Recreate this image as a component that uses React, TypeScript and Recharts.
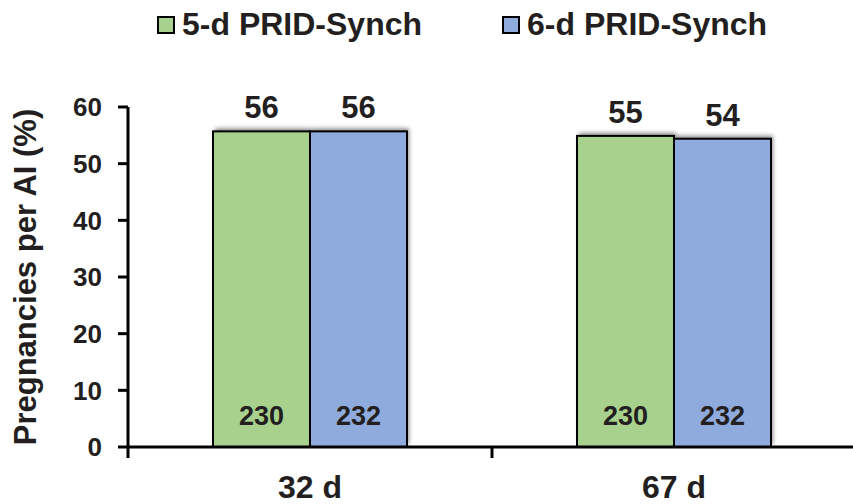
import { Bar, BarChart, LabelList, Legend, XAxis, YAxis } from 'recharts';

const categories = ['32 d', '67 d'];
const fiveDay = [55.7, 54.9];
const sixDay = [55.7, 54.4];
const fiveDayN = [230, 230];
const sixDayN = [232, 232];
const yTicks = [0, 10, 20, 30, 40, 50, 60];
const seriesNames = ['5-d PRID-Synch', '6-d PRID-Synch'];
const colors = ['#A9D18E', '#8FAADC'];

const font = '"Liberation Sans", Arial, sans-serif';
const ink = '#231f20';

const data = categories.map((day, i) => ({
  day,
  five: fiveDay[i],
  six: sixDay[i],
  fiveN: fiveDayN[i],
  sixN: sixDayN[i],
}));

const ShadowBar = (props: any) => {
  const { x, y, width, height, fill } = props;
  return (
    <g>
      <rect x={x + 2} y={y - 3} width={width} height={height} fill="#000" opacity={0.45} filter="url(#barShadow)" />
      <rect x={x} y={y} width={width} height={height} fill={fill} stroke="#000" strokeWidth={2} />
    </g>
  );
};

const DayTick = (props: any) => {
  const { x, y, payload, index, width } = props;
  const half = (Number(width) || 728) / categories.length / 2;
  return (
    <g>
      <line x1={x - half} x2={x - half} y1={y} y2={y + 11} stroke="#000" strokeWidth={3} />
      {index === categories.length - 1 && (
        <line x1={x + half} x2={x + half} y1={y} y2={y + 11} stroke="#000" strokeWidth={3} />
      )}
      <text x={x} y={y + 51} textAnchor="middle" fontFamily={font} fontWeight="bold" fontSize={32} fill={ink}>
        {payload.value}
      </text>
    </g>
  );
};

const renderLegend = () => (
  <div style={{ display: 'flex', paddingLeft: 157, fontFamily: font, fontWeight: 'bold', fontSize: 32, color: ink }}>
    {seriesNames.map((name, i) => (
      <div key={name} style={{ display: 'flex', alignItems: 'center', marginRight: 80 }}>
        <span
          style={{ width: 14, height: 14, border: '2px solid #000', background: colors[i], marginRight: 7 }}
        />
        <span>{name}</span>
      </div>
    ))}
  </div>
);

const round = (v: any) => Math.round(Number(v));

export default function App() {
  return (
    <div style={{ position: 'absolute', left: 0, top: 0, width: 853, height: 504, overflow: 'hidden', background: '#fff' }}>
      <svg width={0} height={0} style={{ position: 'absolute' }}>
        <defs>
          <filter id="barShadow" x="-20%" y="-20%" width="140%" height="140%">
            <feGaussianBlur stdDeviation={2} />
          </filter>
        </defs>
      </svg>
      <BarChart
        width={860}
        height={504}
        data={data}
        margin={{ top: 107, right: 4, bottom: 0, left: 0 }}
        barCategoryGap={85}
        barGap={0}
      >
        <Legend
          layout="horizontal"
          verticalAlign="middle"
          align="center"
          content={renderLegend}
          wrapperStyle={{ top: 6, left: 0, width: 853 }}
        />
        <XAxis
          dataKey="day"
          height={57}
          tickSize={0}
          tickMargin={0}
          tickLine={false}
          axisLine={{ stroke: '#000', strokeWidth: 3 }}
          tick={<DayTick />}
        />
        <YAxis
          width={128}
          domain={[0, 60]}
          ticks={yTicks}
          tickSize={10}
          tickMargin={16}
          axisLine={{ stroke: '#000', strokeWidth: 3 }}
          tickLine={{ stroke: '#000', strokeWidth: 3 }}
          tick={{ fontFamily: font, fontWeight: 'bold', fontSize: 26, fill: ink }}
          label={{
            value: 'Pregnancies per AI (%)',
            angle: -90,
            position: 'insideLeft',
            offset: 25,
            style: { fontFamily: font, fontWeight: 'bold', fontSize: 31, fill: ink, textAnchor: 'middle' },
          }}
        />
        <Bar dataKey="five" fill={colors[0]} shape={<ShadowBar />} isAnimationActive={false}>
          <LabelList dataKey="five" position="top" offset={13} formatter={round}
            style={{ fontFamily: font, fontWeight: 'bold', fontSize: 31, fill: ink }} />
          <LabelList dataKey="fiveN" position="insideBottom" offset={22}
            style={{ fontFamily: font, fontWeight: 'bold', fontSize: 27, fill: ink }} />
        </Bar>
        <Bar dataKey="six" fill={colors[1]} shape={<ShadowBar />} isAnimationActive={false}>
          <LabelList dataKey="six" position="top" offset={13} formatter={round}
            style={{ fontFamily: font, fontWeight: 'bold', fontSize: 31, fill: ink }} />
          <LabelList dataKey="sixN" position="insideBottom" offset={22}
            style={{ fontFamily: font, fontWeight: 'bold', fontSize: 27, fill: ink }} />
        </Bar>
      </BarChart>
    </div>
  );
}
